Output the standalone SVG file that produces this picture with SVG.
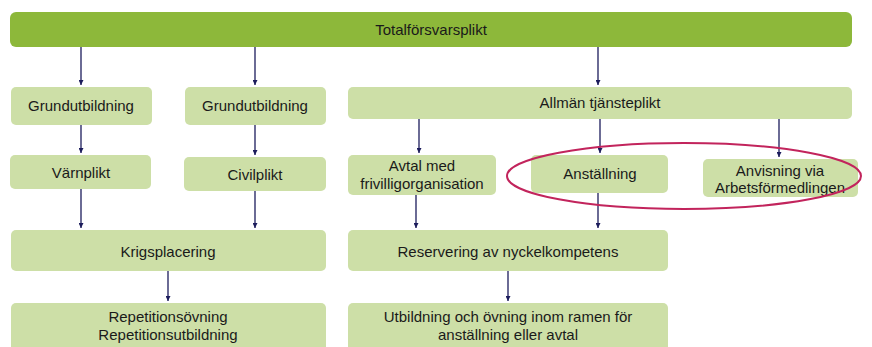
<svg xmlns="http://www.w3.org/2000/svg" width="872" height="347" viewBox="0 0 872 347">
<defs>
<marker id="ah" viewBox="0 0 10 10" refX="10" refY="5" markerWidth="5" markerHeight="5" orient="auto" markerUnits="userSpaceOnUse"><path d="M0,0 L10,5 L0,10 z" fill="#1c1c5c"/></marker>
<style>
.box{fill:#cddfa7}
.top{fill:#8db83a}
text{font-family:"Liberation Sans",Arial,sans-serif;font-size:15px;fill:#1a1a1a;text-anchor:middle}
.c line{stroke:#1c1c5c;stroke-width:1.3;marker-end:url(#ah)}
</style>
</defs>
<rect width="872" height="347" fill="#ffffff"/>
<g id="totalforsvarsplikt"><rect class="top" x="10" y="12" width="842" height="35" rx="6"/><text x="431" y="35">Totalförsvarsplikt</text></g>
<g id="grundutbildning1"><rect class="box" x="11" y="87" width="141" height="38" rx="5"/><text x="81" y="111">Grundutbildning</text></g>
<g id="grundutbildning2"><rect class="box" x="185" y="87" width="141" height="38" rx="5"/><text x="255" y="111">Grundutbildning</text></g>
<g id="allman"><rect class="box" x="348" y="87" width="504" height="32" rx="5"/><text x="600" y="108">Allmän tjänsteplikt</text></g>
<g id="varnplikt"><rect class="box" x="10" y="155" width="141" height="34" rx="5"/><text x="81" y="178">Värnplikt</text></g>
<g id="civilplikt"><rect class="box" x="184" y="157" width="142" height="34" rx="5"/><text x="255" y="180">Civilplikt</text></g>
<g id="avtal"><rect class="box" x="348" y="155" width="148" height="40" rx="5"/><text x="422" y="171">Avtal med</text><text x="422" y="189">frivilligorganisation</text></g>
<g id="anstallning"><rect class="box" x="531" y="155" width="137" height="38" rx="5"/><text x="600" y="179">Anställning</text></g>
<g id="anvisning"><rect class="box" x="703" y="159" width="155" height="38" rx="5"/><text x="780" y="176">Anvisning via</text><text x="780" y="193">Arbetsförmedlingen</text></g>
<g id="krigsplacering"><rect class="box" x="11" y="230" width="315" height="41" rx="5"/><text x="168" y="257">Krigsplacering</text></g>
<g id="reservering"><rect class="box" x="348" y="230" width="320" height="41" rx="5"/><text x="508" y="257">Reservering av nyckelkompetens</text></g>
<g id="repetition"><rect class="box" x="11" y="303" width="315" height="50" rx="5"/><text x="168" y="322">Repetitionsövning</text><text x="168" y="340">Repetitionsutbildning</text></g>
<g id="utbildning"><rect class="box" x="348" y="303" width="320" height="50" rx="5"/><text x="508" y="322">Utbildning och övning inom ramen för</text><text x="508" y="340">anställning eller avtal</text></g>
<g id="connectors" class="c">
<line x1="81" y1="47" x2="81" y2="85"/>
<line x1="255" y1="47" x2="255" y2="85"/>
<line x1="598" y1="47" x2="598" y2="85"/>
<line x1="81" y1="125" x2="81" y2="153"/>
<line x1="255" y1="125" x2="255" y2="155"/>
<line x1="419" y1="119" x2="419" y2="153"/>
<line x1="600" y1="119" x2="600" y2="153"/>
<line x1="779" y1="119" x2="779" y2="157"/>
<line x1="81" y1="189" x2="81" y2="228"/>
<line x1="255" y1="191" x2="255" y2="228"/>
<line x1="416" y1="195" x2="416" y2="228"/>
<line x1="598" y1="193" x2="598" y2="228"/>
<line x1="168" y1="271" x2="168" y2="301"/>
<line x1="508" y1="271" x2="508" y2="301"/>
</g>
<ellipse id="highlight" cx="684" cy="176" rx="177" ry="33" fill="none" stroke="#c2245c" stroke-width="2"/>
</svg>
